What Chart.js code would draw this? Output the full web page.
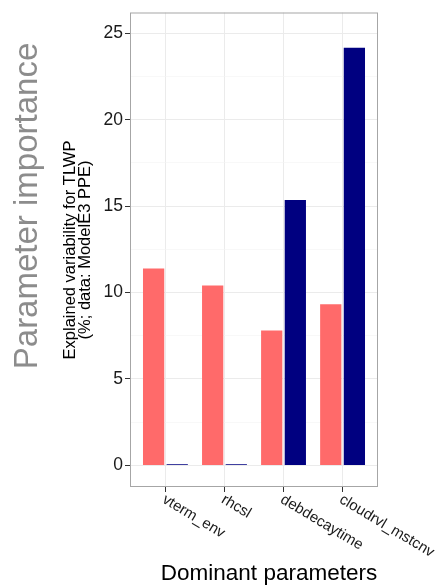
<!DOCTYPE html>
<html>
<head>
<meta charset="utf-8">
<script src="https://cdn.jsdelivr.net/npm/chart.js@4/dist/chart.umd.min.js"></script>
<style>
  html, body { margin: 0; padding: 0; background: #ffffff; }
  #chart { display: block; }
</style>
</head>
<body>
<canvas id="chart" width="438" height="586"></canvas>
<script>
// Dominant parameters and their explained variability (%) for TLWP
const categories = ['vterm_env', 'rhcsl', 'debdecaytime', 'cloudrvl_mstcnv'];
const explainedA = [11.39, 10.41, 7.81, 9.32];
const explainedB = [0.06, 0.06, 15.35, 24.16];
const yTickValues = [0, 5, 10, 15, 20, 25];

const FONT = '"Liberation Sans", Arial, Helvetica, sans-serif';

const toPoints = vals => vals.map((v, i) => ({ x: i, y: v }));

// Panel frame, outer titles and slanted category labels
const decorations = {
  id: 'decorations',
  afterDraw(chart) {
    const { ctx, chartArea: a, scales } = chart;
    ctx.save();

    // panel border
    ctx.strokeStyle = '#a6a6a6';
    ctx.lineWidth = 1;
    ctx.strokeRect(a.left + 0.5, a.top + 0.5, a.right - a.left - 1, a.bottom - a.top - 1);

    // slanted category labels starting at each tick
    ctx.fillStyle = '#1a1a1a';
    ctx.font = '15px ' + FONT;
    ctx.textAlign = 'left';
    ctx.textBaseline = 'top';
    categories.forEach((name, i) => {
      const x = scales.x.getPixelForValue(i);
      ctx.save();
      ctx.translate(x + 2, a.bottom + 5);
      ctx.rotate(31 * Math.PI / 180);
      ctx.fillText(name, 0, 0);
      ctx.restore();
    });

    // x-axis title
    ctx.fillStyle = '#000000';
    ctx.font = '22.5px ' + FONT;
    ctx.textAlign = 'center';
    ctx.textBaseline = 'alphabetic';
    ctx.fillText('Dominant parameters', 269, 580);

    // y-axis title (two lines)
    ctx.save();
    ctx.translate(0, 250);
    ctx.rotate(-Math.PI / 2);
    ctx.font = '16.5px ' + FONT;
    ctx.fillStyle = '#000000';
    ctx.fillText('Explained variability for TLWP', 0, 75);
    ctx.fillText('(%; data: ModelE3 PPE)', 0, 89.5);
    ctx.restore();

    // side heading
    ctx.save();
    ctx.translate(0, 206);
    ctx.rotate(-Math.PI / 2);
    ctx.font = '33px ' + FONT;
    ctx.fillStyle = '#8c8c8c';
    ctx.textAlign = 'center';
    ctx.fillText('Parameter importance', 0, 37);
    ctx.restore();

    ctx.restore();
  }
};

const isMajor = v => yTickValues.includes(v);

new Chart(document.getElementById('chart'), {
  type: 'bar',
  data: {
    datasets: [
      { label: 'A', data: toPoints(explainedA), backgroundColor: '#FF6A6A',
        categoryPercentage: 0.8, barPercentage: 0.9 },
      { label: 'B', data: toPoints(explainedB), backgroundColor: '#000080',
        categoryPercentage: 0.8, barPercentage: 0.9 }
    ]
  },
  options: {
    responsive: false,
    animation: false,
    events: [],
    layout: { padding: { top: 9, right: 60, left: 0, bottom: 0 } },
    plugins: { legend: { display: false }, tooltip: { enabled: false } },
    scales: {
      x: {
        type: 'linear',
        min: -0.6,
        max: 3.6,
        offset: false,
        border: { display: false },
        grid: { offset: false, color: '#ebebeb', lineWidth: 1, tickLength: 5, tickColor: '#333333' },
        ticks: { stepSize: 1, includeBounds: false, display: false },
        afterFit(scale) { scale.height = 99; }
      },
      y: {
        min: -1.25,
        max: 26.2,
        border: { display: false },
        grid: {
          color: ctx => isMajor(ctx.tick && ctx.tick.value) ? '#ebebeb' : '#f3f3f3',
          lineWidth: ctx => isMajor(ctx.tick && ctx.tick.value) ? 1 : 0.6,
          tickLength: 5,
          tickColor: ctx => isMajor(ctx.tick && ctx.tick.value) ? '#333333' : 'rgba(0,0,0,0)'
        },
        ticks: {
          stepSize: 2.5,
          includeBounds: false,
          autoSkip: false,
          padding: 2,
          color: '#1a1a1a',
          font: { family: FONT, size: 17.5 },
          callback: v => isMajor(v) ? String(v) : ''
        },
        afterFit(scale) { scale.width = 130; }
      }
    }
  },
  plugins: [decorations]
});
</script>
</body>
</html>
